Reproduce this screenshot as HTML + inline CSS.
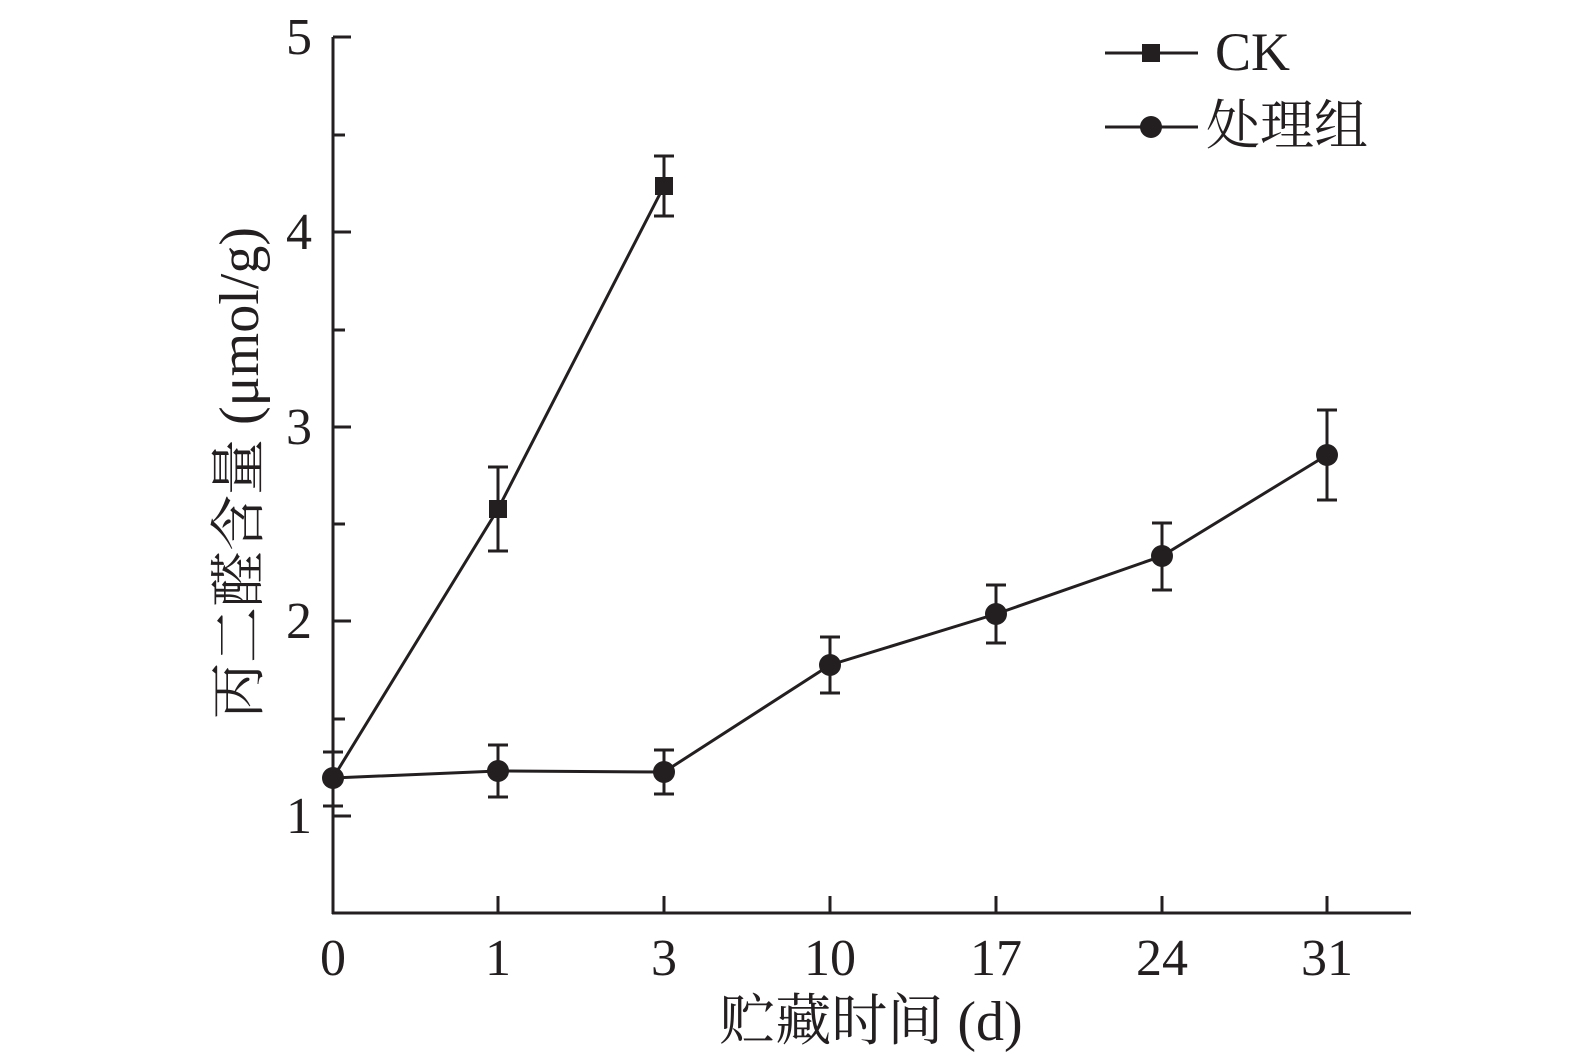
<!DOCTYPE html>
<html><head><meta charset="utf-8"><style>html,body{margin:0;padding:0;background:#fff;}svg{display:block}</style></head>
<body>
<svg width="1575" height="1063" viewBox="0 0 1575 1063" xmlns="http://www.w3.org/2000/svg" font-family="'Liberation Serif','Noto Serif CJK SC',serif" fill="#231f20">
<g stroke="#231f20" stroke-width="3" fill="none">
<line x1="333" y1="37" x2="333" y2="914"/>
<line x1="332" y1="913" x2="1411" y2="913"/>
<line x1="333" y1="37" x2="351" y2="37"/>
<line x1="333" y1="232" x2="351" y2="232"/>
<line x1="333" y1="427" x2="351" y2="427"/>
<line x1="333" y1="621" x2="351" y2="621"/>
<line x1="333" y1="816" x2="351" y2="816"/>
<line x1="333" y1="135" x2="345" y2="135"/>
<line x1="333" y1="330" x2="345" y2="330"/>
<line x1="333" y1="524" x2="345" y2="524"/>
<line x1="333" y1="719" x2="345" y2="719"/>
<line x1="498" y1="913" x2="498" y2="896"/>
<line x1="664" y1="913" x2="664" y2="896"/>
<line x1="830" y1="913" x2="830" y2="896"/>
<line x1="996" y1="913" x2="996" y2="896"/>
<line x1="1162" y1="913" x2="1162" y2="896"/>
<line x1="1327" y1="913" x2="1327" y2="896"/>
<polyline points="333,778 498,509 664,186"/>
<path d="M498,467V551M488,467H508M488,551H508M664,156V216M654,156H674M654,216H674M333,752V806M323,752H343M323,806H343"/>
<polyline points="333,778 498,771 664,772 830,665 996,614 1162,556 1327,455"/>
<path d="M498,745V797M488,745H508M488,797H508M664,750V794M654,750H674M654,794H674M830,637V693M820,637H840M820,693H840M996,585V643M986,585H1006M986,643H1006M1162,523V590M1152,523H1172M1152,590H1172M1327,410V500M1317,410H1337M1317,500H1337"/>
<line x1="1105" y1="53" x2="1198" y2="53"/>
<line x1="1105" y1="127" x2="1198" y2="127"/>
</g>
<rect x="489" y="500" width="18" height="18"/>
<rect x="655" y="177" width="18" height="18"/>
<rect x="1142" y="44" width="18" height="18"/>
<circle cx="333" cy="778" r="11"/>
<circle cx="498" cy="771" r="11"/>
<circle cx="664" cy="772" r="11"/>
<circle cx="830" cy="665" r="11"/>
<circle cx="996" cy="614" r="11"/>
<circle cx="1162" cy="556" r="11"/>
<circle cx="1327" cy="455" r="11"/>
<circle cx="1151" cy="127" r="11"/>
<text x="1215" y="70" font-size="54">CK</text>
<text x="1206" y="144" font-size="54">处理组</text>
<g font-size="52">
<g text-anchor="end">
<text x="312" y="54">5</text>
<text x="312" y="249">4</text>
<text x="312" y="444">3</text>
<text x="312" y="638">2</text>
<text x="312" y="833">1</text>
</g>
<g text-anchor="middle">
<text x="333" y="975">0</text>
<text x="498" y="975">1</text>
<text x="664" y="975">3</text>
<text x="830" y="975">10</text>
<text x="996" y="975">17</text>
<text x="1162" y="975">24</text>
<text x="1327" y="975">31</text>
</g>
</g>
<g font-size="56" text-anchor="middle">
<text x="871" y="1040">贮藏时间 (d)</text>
<text transform="translate(258,473) rotate(-90)">丙二醛含量 (μmol/g)</text>
</g>
</svg>
</body></html>
